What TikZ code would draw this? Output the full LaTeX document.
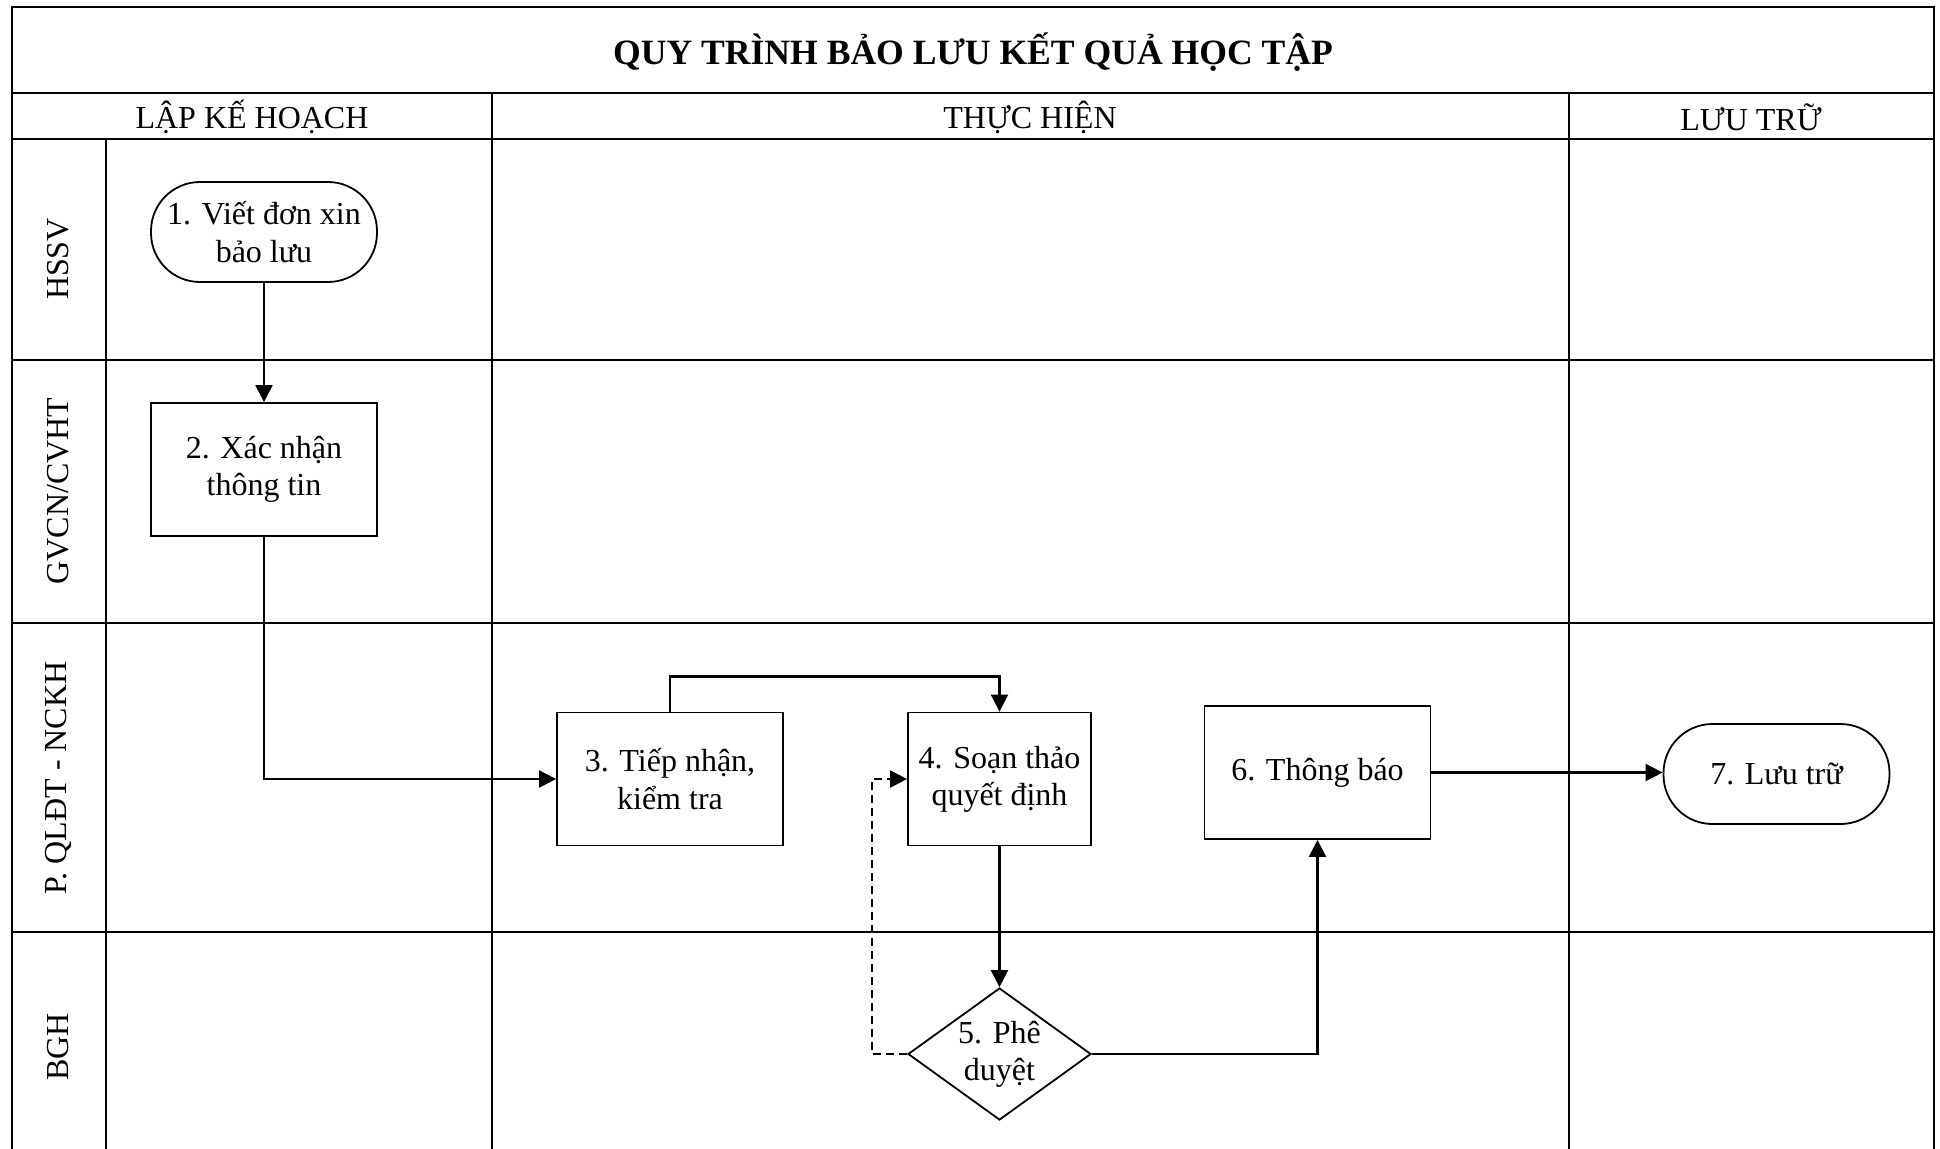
\documentclass[tikz,border=0pt]{standalone}
\usepackage{fontspec}
\setmainfont{Liberation Serif}
\usetikzlibrary{arrows.meta,shapes.geometric}
\newcommand{\bodyfont}{\fontsize{16}{18.6}\selectfont}
\newcommand{\titlefont}{\fontsize{17.8}{21}\selectfont\bfseries}
\begin{document}
\begin{tikzpicture}[x=0.5pt,y=-0.5pt,
  frame/.style={line width=0.95pt},
  proc/.style={draw, line width=0.9pt, rectangle, minimum width=113pt, minimum height=66.5pt, align=center, font=\bodyfont, inner sep=2pt},
  term/.style={draw, line width=0.9pt, rectangle, rounded corners=24.5pt, minimum width=113pt, minimum height=50pt, align=center, font=\bodyfont, inner sep=2pt},
  decis/.style={draw, line width=0.9pt, diamond, aspect=1.39, inner sep=0pt, minimum width=91.5pt, minimum height=66pt, align=center, font=\bodyfont},
  arr/.style={line width=1.15pt, -{Triangle[length=8.5pt,width=8.5pt]}},
  lanelbl/.style={rotate=90, font=\bodyfont, anchor=center},
  hdr/.style={font=\bodyfont, anchor=center}
]
\useasboundingbox (0,0) rectangle (1940,1148);
% frame
\draw[frame] (12,1160) -- (12,7) -- (1934,7) -- (1934,1160);
\draw[frame] (12,93) -- (1934,93);
\draw[frame] (12,139) -- (1934,139);
\draw[frame] (492,93) -- (492,1160);
\draw[frame] (1569,93) -- (1569,1160);
\draw[frame] (106,139) -- (106,1160);
\draw[frame] (12,360) -- (1934,360);
\draw[frame] (12,623) -- (1934,623);
\draw[frame] (12,932) -- (1934,932);
% titles
\node[font=\titlefont] (title) at (973,52) {QUY TRÌNH BẢO LƯU KẾT QUẢ HỌC TẬP};
\node[hdr] (h1) at (252,117) {LẬP KẾ HOẠCH};
\node[hdr] (h2) at (1030,117) {THỰC HIỆN};
\node[hdr] (h3) at (1751,117) {LƯU TRỮ};
\node[lanelbl] (l1) at (58,259) {HSSV};
\node[lanelbl] (l2) at (58,491) {GVCN/CVHT};
\node[lanelbl] (l3) at (58,778) {P. QLĐT - NCKH};
\node[lanelbl] (l4) at (58,1047) {BGH};
% nodes
\node[term] (n1) at (264,232) {1. Viết đơn xin\\bảo lưu};
\node[proc] (n2) at (264,469.5) {2. Xác nhận\\thông tin};
\node[proc] (n3) at (670,779) {3. Tiếp nhận,\\kiểm tra};
\node[proc, minimum width=91.5pt] (n4) at (999.5,779) {4. Soạn thảo\\quyết định};
\node[decis] (n5) at (999.5,1054) {5. Phê\\duyệt};
\node[proc] (n6) at (1317.5,772.5) {6. Thông báo};
\node[term] (n7) at (1776.5,774) {7. Lưu trữ};
% connectors
\draw[arr] (n1.south) -- (n2.north);
\draw[arr] (n2.south) |- (n3.west);
\draw[arr] (n3.north) -- ++(0,-35) -| (n4.north);
\draw[arr] (n4.south) -- (n5.north);
\draw[arr, dash pattern=on 4pt off 2.5pt] (n5.west) -- ++(-35,0) |- (n4.west);
\draw[arr] (n5.east) -| (n6.south);
\draw[arr] (n6.east) -- (n6.east -| n7.west);
\end{tikzpicture}
\end{document}
